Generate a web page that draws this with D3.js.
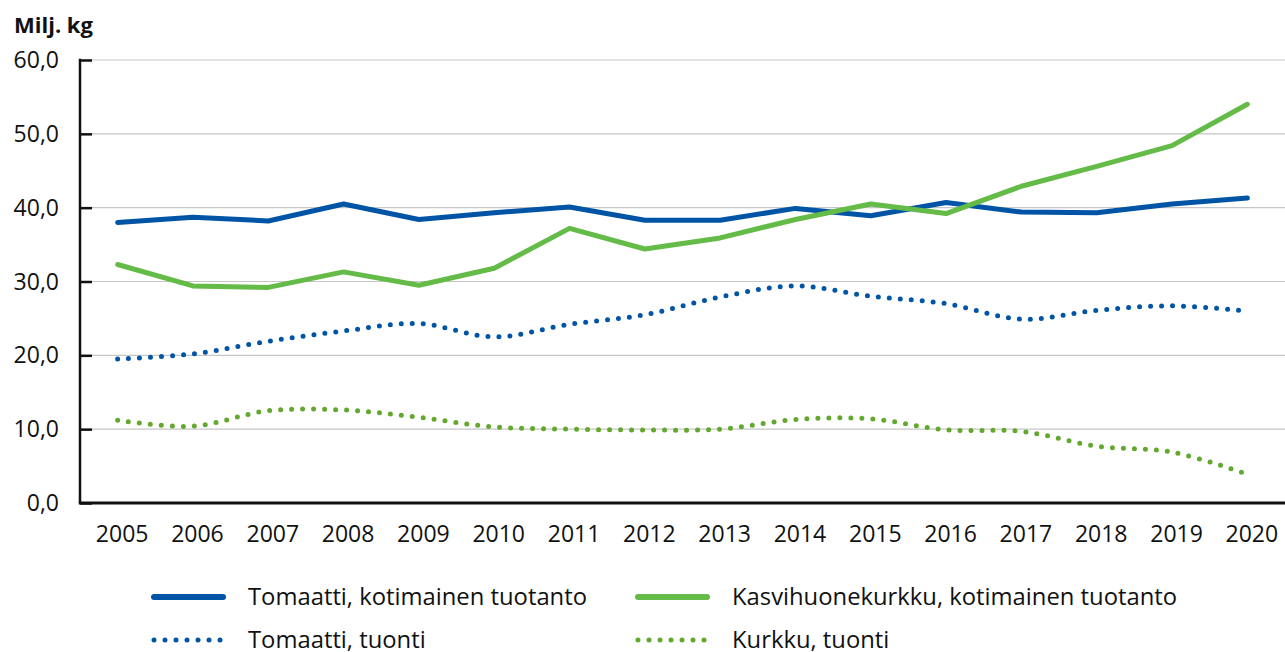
<!DOCTYPE html>
<html>
<head>
<meta charset="utf-8">
<script src="https://cdn.jsdelivr.net/npm/d3@7"></script>
<style>
  html, body { margin: 0; padding: 0; background: #fff; }
  svg text { font-family: "Open Sans", "Noto Sans", sans-serif; fill: #111; }
</style>
</head>
<body>
<svg id="chart" width="1285" height="652"></svg>
<script>
// Annual volumes, million kg
const years = [2005, 2006, 2007, 2008, 2009, 2010, 2011, 2012, 2013, 2014, 2015, 2016, 2017, 2018, 2019, 2020];
const tomatoDomestic = [38.0, 38.7, 38.2, 40.5, 38.4, 39.3, 40.1, 38.3, 38.3, 39.9, 38.9, 40.7, 39.4, 39.3, 40.5, 41.3];
const cucumberDomestic = [32.3, 29.4, 29.2, 31.3, 29.5, 31.8, 37.2, 34.4, 35.9, 38.4, 40.5, 39.2, 42.9, 45.6, 48.4, 54.0];
const tomatoImport = [19.5, 20.2, 21.9, 23.3, 24.3, 22.5, 24.2, 25.5, 27.9, 29.4, 28.0, 27.0, 24.9, 26.1, 26.7, 26.0];
const cucumberImport = [11.2, 10.4, 12.5, 12.6, 11.6, 10.3, 10.0, 9.9, 10.0, 11.3, 11.4, 9.9, 9.7, 7.7, 6.9, 3.9];
const yTicks = [0, 10, 20, 30, 40, 50, 60];
const seriesNames = [
  "Tomaatti, kotimainen tuotanto",
  "Kasvihuonekurkku, kotimainen tuotanto",
  "Tomaatti, tuonti",
  "Kurkku, tuonti"
];

const BLUE = "#0054a6";
const GREEN = "#64bb47";
const GREEN_DARK = "#62a82c";

const series = [
  { name: seriesNames[0], values: tomatoDomestic, color: BLUE, dotted: false },
  { name: seriesNames[1], values: cucumberDomestic, color: GREEN, dotted: false },
  { name: seriesNames[2], values: tomatoImport, color: BLUE, dotted: true },
  { name: seriesNames[3], values: cucumberImport, color: GREEN_DARK, dotted: true }
];

const svg = d3.select("#chart");
const plotLeft = 80, plotRight = 1285, plotTop = 60, plotBottom = 503;

const x = d3.scalePoint().domain(years).range([plotLeft, plotRight]).padding(0.5);
const y = d3.scaleLinear().domain([0, 60]).range([plotBottom, plotTop]);
const fmt = v => d3.format(".1f")(v).replace(".", ",");

// horizontal gridlines
svg.append("g")
  .selectAll("line")
  .data(yTicks.filter(t => t > 0))
  .join("line")
  .attr("x1", plotLeft).attr("x2", plotRight)
  .attr("y1", d => y(d)).attr("y2", d => y(d))
  .attr("stroke", "#c6c6c6").attr("stroke-width", 1.2);

// y axis: ticks point inward
const yAxis = svg.append("g")
  .attr("transform", `translate(${plotLeft},0)`)
  .call(d3.axisRight(y).tickValues(yTicks).tickSize(12).tickFormat(""));
yAxis.select(".domain").remove();
yAxis.selectAll(".tick line").attr("stroke", "#111").attr("stroke-width", 2.5);
svg.append("line")
  .attr("x1", plotLeft).attr("x2", plotLeft)
  .attr("y1", y(60) - 1.2).attr("y2", plotBottom)
  .attr("stroke", "#111").attr("stroke-width", 2.5);

svg.append("g")
  .selectAll("text")
  .data(yTicks)
  .join("text")
  .attr("x", 59)
  .attr("y", d => y(d))
  .attr("dy", "0.35em")
  .attr("text-anchor", "end")
  .style("font-size", "23px")
  .text(fmt);

// x axis
svg.append("line")
  .attr("x1", plotLeft - 1.2).attr("x2", plotRight)
  .attr("y1", plotBottom).attr("y2", plotBottom)
  .attr("stroke", "#111").attr("stroke-width", 3);

const xAxis = svg.append("g")
  .attr("transform", `translate(4,${plotBottom})`)
  .call(d3.axisBottom(x).tickSize(0).tickPadding(0));
xAxis.select(".domain").remove();
xAxis.selectAll("text")
  .attr("y", 39)
  .attr("dy", 0)
  .style("font-size", "23px")
  .style("font-family", "\"Open Sans\", sans-serif")
  .attr("fill", "#111");

// unit label
svg.append("text")
  .attr("x", 14).attr("y", 33)
  .style("font-size", "22px").style("font-weight", "bold")
  .text("Milj. kg");

// series lines
const straight = d3.line().x((d, i) => x(years[i])).y(d => y(d));
const smooth = d3.line().x((d, i) => x(years[i])).y(d => y(d)).curve(d3.curveCatmullRom.alpha(0.5));

svg.append("g")
  .selectAll("path")
  .data(series)
  .join("path")
  .attr("d", s => (s.dotted ? smooth : straight)(s.values))
  .attr("fill", "none")
  .attr("stroke", s => s.color)
  .attr("stroke-width", 5)
  .attr("stroke-linecap", "round")
  .attr("stroke-linejoin", "round")
  .attr("stroke-dasharray", s => s.dotted ? "0 11" : null);

// legend
const legendPos = [
  { sx: 154, tx: 248, y: 597 },
  { sx: 638, tx: 732, y: 597 },
  { sx: 154, tx: 248, y: 640 },
  { sx: 638, tx: 732, y: 640 }
];
const legend = svg.append("g")
  .selectAll("g")
  .data(series)
  .join("g")
  .attr("transform", (s, i) => `translate(0,${legendPos[i].y})`);

legend.append("line")
  .attr("x1", (s, i) => legendPos[i].sx)
  .attr("x2", (s, i) => legendPos[i].sx + (s.dotted ? 66.1 : 69))
  .attr("y1", 0).attr("y2", 0)
  .attr("stroke", s => s.color)
  .attr("stroke-width", s => s.dotted ? 5 : 6)
  .attr("stroke-linecap", "round")
  .attr("stroke-dasharray", s => s.dotted ? "0 11" : null);

legend.append("text")
  .attr("x", (s, i) => legendPos[i].tx)
  .attr("y", 0)
  .attr("dy", "0.35em")
  .style("font-size", "23.8px")
  .text(s => s.name);
</script>
</body>
</html>
